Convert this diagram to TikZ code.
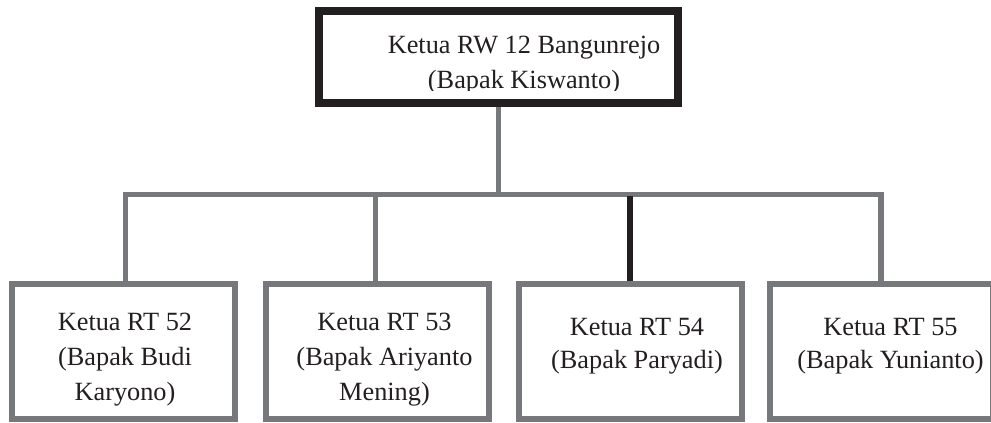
\documentclass[tikz,border=0pt]{standalone}
\usepackage{fontspec}
\setmainfont{Liberation Serif}
\usetikzlibrary{backgrounds}
\definecolor{lgrey}{HTML}{77787B}
\definecolor{ink}{HTML}{231F20}
\tikzset{
  conn/.style={draw=lgrey, line width=5.5pt, line join=miter},
  darkconn/.style={draw=ink, line width=6pt},
  rtbox/.style={draw=lgrey, line width=6pt, fill=white, rectangle, minimum width=223pt, minimum height=134.5pt, inner sep=0pt},
  rwbox/.style={draw=ink, line width=8pt, fill=white, rectangle, minimum width=359pt, minimum height=92pt, inner sep=0pt},
  lbl/.style={anchor=base, inner sep=0pt, text=ink, font=\fontsize{26.3}{35}\selectfont}
}
\newcommand\mystack[2][1]{{\renewcommand\arraystretch{#1}\begin{tabular}[t]{@{}c@{}}#2\end{tabular}}}
\begin{document}
\begin{tikzpicture}[x=1pt,y=-1pt]
\useasboundingbox (0,0) rectangle (991,423);
% boxes
\node[rwbox] (rw) at (498.5,57) {};
\node[rtbox] (rt52) at (123.5,351.25) {};
\node[rtbox] (rt53) at (377,351.25) {};
\node[rtbox] (rt54) at (630,351.25) {};
\node[rtbox] (rt55) at (881.5,351.25) {};
% connectors
\coordinate (busL) at (125.5,194.5);
\coordinate (busR) at (881,194.5);
\coordinate (tap53) at (375.5,194.5);
\begin{scope}[on background layer]
  \draw[conn] (rw.south) -- (rw.south |- busL);
  \draw[conn] (rt52.north -| busL) -- (busL) -- (busR) -- (rt55.north -| busR);
  \draw[conn] (tap53) -- (tap53 |- rt53.north);
  \draw[darkconn] (rt54.north) -- ([yshift=-1pt]rt54.north |- busL);
\end{scope}
% texts
\begin{scope}
  \clip (300,0) rectangle (700,90);
  \node[lbl] (trw) at (524,53) {\mystack{Ketua RW 12 Bangunrejo\\(Bapak Kiswanto)}};
\end{scope}
\node[lbl] (t52) at (125,330) {\mystack{Ketua RT 52\\(Bapak Budi\\Karyono)}};
\node[lbl] (t53) at (384.5,330) {\mystack{Ketua RT 53\\(Bapak Ariyanto\\Mening)}};
\node[lbl] (t54) at (637,335) {\mystack[0.943]{Ketua RT 54\\(Bapak Paryadi)}};
\node[lbl] (t55) at (890.5,335) {\mystack[0.943]{Ketua RT 55\\(Bapak Yunianto)}};
\end{tikzpicture}
\end{document}
